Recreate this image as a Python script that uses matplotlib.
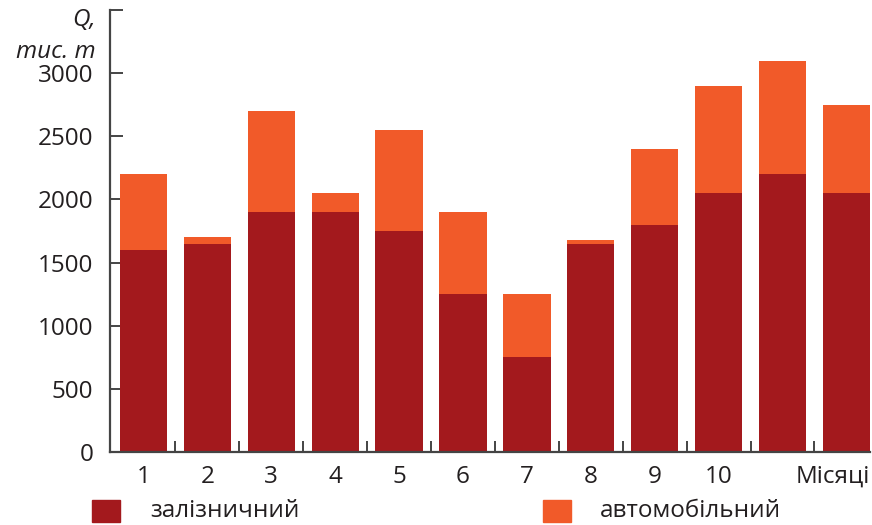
import matplotlib
matplotlib.use("Agg")
import matplotlib.pyplot as plt
from matplotlib.patches import Rectangle

months = [1, 2, 3, 4, 5, 6, 7, 8, 9, 10, 11, 12]
rail = [1600, 1650, 1900, 1900, 1750, 1250, 750, 1650, 1800, 2050, 2200, 2050]
auto = [600, 50, 800, 150, 800, 650, 500, 30, 600, 850, 900, 700]
tick_labels = ["1", "2", "3", "4", "5", "6", "7", "8", "9", "10"]
yticks = [0, 500, 1000, 1500, 2000, 2500, 3000, 3500]

c_rail = "#A3191D"
c_auto = "#F15A29"
txt = "#231F20"
FS = 17.5

plt.rcParams['font.family'] = ['Open Sans', 'DejaVu Sans']

W, H = 872, 525
fig = plt.figure(figsize=(W / 100, H / 100), dpi=100)
ax = fig.add_axes([110 / W, 1 - 452 / H, (870 - 110) / W, (452 - 10) / H])

ax.bar(months, rail, width=0.74, color=c_rail, zorder=2)
ax.bar(months, auto, bottom=rail, width=0.74, color=c_auto, zorder=2)

ax.set_xlim(0.476, 12.37)
ax.set_ylim(0, 3500)

for s in ["top", "right"]:
    ax.spines[s].set_visible(False)
for s in ["left", "bottom"]:
    ax.spines[s].set_color("#444444")
    ax.spines[s].set_linewidth(1.6)

ax.set_yticks(yticks)
ax.set_yticklabels([str(v) if v <= 3000 else "" for v in yticks], fontsize=FS, color=txt)
ax.tick_params(axis="y", direction="in", length=9, width=1.4, color="#444444", pad=12)

ax.set_xticks([m + 0.5 for m in months[:-1]])
ax.set_xticklabels([])
ax.tick_params(axis="x", direction="in", length=8, width=1.4, color="#444444")

for m, lab in zip(months, tick_labels):
    ax.text(m, -100, lab, ha="center", va="top", fontsize=FS, color=txt)
ax.text(12.37, -100, "Місяці", ha="right", va="top", fontsize=FS, color=txt)

fig.text(96 / W, 1 - 20 / H, "Q,", ha="right", va="center", fontsize=FS, style="italic", color=txt)
fig.text(96 / W, 1 - 52 / H, "тис. т", ha="right", va="center", fontsize=FS, style="italic", color=txt)

fig.patches.append(Rectangle((92 / W, 1 - 522 / H), 28 / W, 22 / H, transform=fig.transFigure, color=c_rail))
fig.text(150 / W, 1 - 511 / H, "залізничний", ha="left", va="center", fontsize=FS, color=txt)
fig.patches.append(Rectangle((543 / W, 1 - 522 / H), 28 / W, 22 / H, transform=fig.transFigure, color=c_auto))
fig.text(600 / W, 1 - 511 / H, "автомобільний", ha="left", va="center", fontsize=FS, color=txt)

fig.savefig("out.png", dpi=100)
